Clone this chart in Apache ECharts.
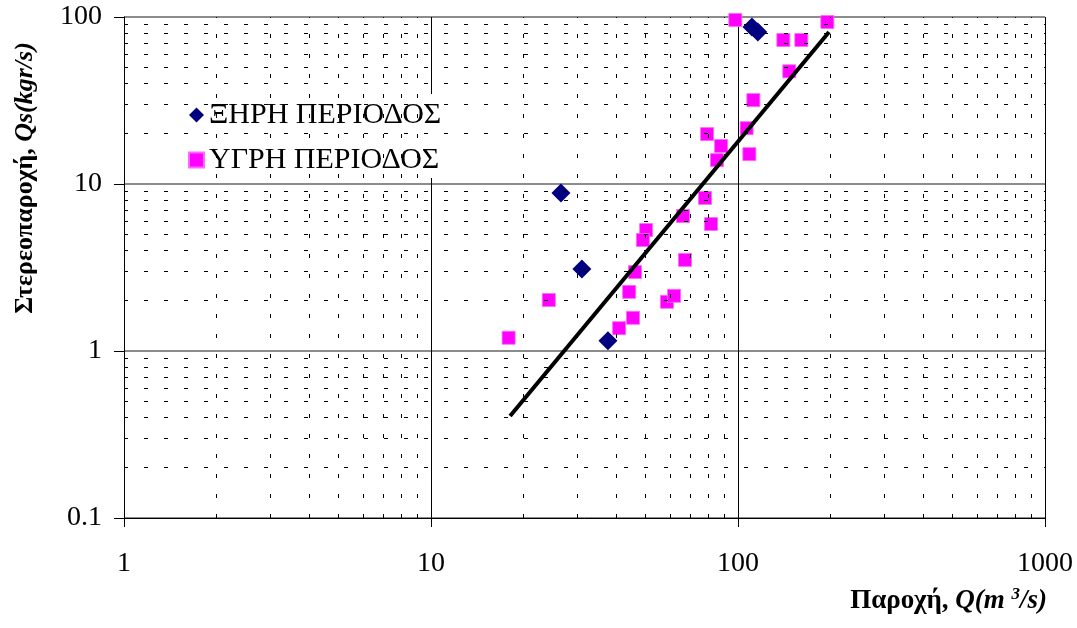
<!DOCTYPE html>
<html>
<head>
<meta charset="utf-8">
<script src="https://cdn.jsdelivr.net/npm/echarts@6/dist/echarts.min.js"></script>
<style>html,body{margin:0;padding:0;background:#fff}#c{width:1077px;height:628px}</style>
</head>
<body>
<div id="c"></div>
<script>
// Dry period (ΞΗΡΗ ΠΕΡΙΟΔΟΣ): [Q m3/s, Qs kgr/s]
const dryQ  = [26.5, 31.0, 37.7, 111, 116];
const dryQs = [8.83, 3.10, 1.15, 87.1, 81.3];
// Wet period (ΥΓΡΗ ΠΕΡΙΟΔΟΣ)
const wetQ  = [17.9, 24.2, 41.0, 45.5, 44.2, 46.2, 58.7, 61.9, 67.2, 50.2, 49.0, 78.1, 66.2, 81.7, 79.3, 88.1, 85.4, 106.7, 108.9, 112.2, 98.0, 140.5, 160.8, 146.9, 195.4];
const wetQs = [1.20, 2.02, 1.37, 1.58, 2.26, 2.97, 1.97, 2.14, 3.51, 5.30, 4.62, 8.25, 6.43, 5.76, 19.9, 16.9, 13.9, 21.6, 15.1, 31.8, 96.0, 72.8, 72.8, 47.3, 93.3];
// Fitted line endpoints
const fitQ  = [18.1, 197.9];
const fitQs = [0.408, 81.3];
// Minor grid values
const xMinor = [2,3,4,5,6,7,8,9,20,30,40,50,60,70,80,90,200,300,400,500,600,700,800,900];
const yMinor = [0.2,0.3,0.4,0.5,0.6,0.7,0.8,0.9,2,3,4,5,6,7,8,9,20,30,40,50,60,70,80,90];
const seriesNames = ['ΞΗΡΗ ΠΕΡΙΟΔΟΣ', 'ΥΓΡΗ ΠΕΡΙΟΔΟΣ'];

const zip = (a, b) => a.map((v, i) => [v, b[i]]);
const serif = 'Liberation Serif';
const chart = echarts.init(document.getElementById('c'), null, {renderer: 'canvas'});

const minorLines = xMinor.map(v => ({xAxis: v})).concat(yMinor.map(v => ({yAxis: v})));
const fmt = v => String(Math.round(v * 1000) / 1000);

chart.setOption({
  animation: false,
  backgroundColor: '#fff',
  grid: {left: 124, right: 32, top: 17, bottom: 110},
  xAxis: {
    type: 'log', logBase: 10, min: 1, max: 1000,
    axisLine: {lineStyle: {color: '#000', width: 1}},
    axisTick: {show: true, length: 9, lineStyle: {color: '#000'}},
    axisLabel: {fontFamily: serif, fontSize: 28, color: '#000', margin: 32, formatter: fmt},
    splitLine: {show: true, lineStyle: {color: '#000', width: 1}}
  },
  yAxis: {
    type: 'log', logBase: 10, min: 0.1, max: 100,
    axisLine: {lineStyle: {color: '#000', width: 1}},
    axisTick: {show: true, length: 10, lineStyle: {color: '#000'}},
    axisLabel: {fontFamily: serif, fontSize: 28, color: '#000', margin: 22, formatter: fmt},
    splitLine: {show: true, lineStyle: {color: '#666', width: 1.5}}
  },
  legend: {
    orient: 'vertical', left: 180, top: 94,
    backgroundColor: '#fff', padding: [6, 10, 3, 8],
    itemGap: 15, itemWidth: 15, itemHeight: 15,
    textStyle: {fontFamily: serif, fontSize: 30, color: '#000'},
    data: [{name: seriesNames[0], icon: 'diamond'}, {name: seriesNames[1], icon: 'rect'}]
  },
  series: [
    {
      type: 'line', data: [], silent: true, z: 1,
      markLine: {
        silent: true, symbol: 'none', animation: false,
        label: {show: false},
        lineStyle: {color: '#000', width: 1, type: [4, 16]},
        data: minorLines
      }
    },
    {
      name: seriesNames[1], type: 'scatter', symbol: 'rect', symbolSize: 13, z: 3,
      itemStyle: {color: '#FF00FF', borderColor: '#ff66ff', borderWidth: 0.8, opacity: 1},
      data: zip(wetQ, wetQs)
    },
    {
      name: seriesNames[0], type: 'scatter', symbol: 'diamond', symbolSize: 19, z: 4,
      itemStyle: {color: '#000080', opacity: 1},
      data: zip(dryQ, dryQs)
    },
    {
      type: 'line', data: zip(fitQ, fitQs), symbol: 'none', z: 5,
      lineStyle: {color: '#000', width: 4}
    }
  ],
  graphic: [
    {
      type: 'text', x: 1047, y: 601,
      style: {
        text: '{b|Παροχή, }{bi|Q(m }{sup|3}{bi|/s)}',
        align: 'right', verticalAlign: 'middle',
        rich: {
          b: {fontFamily: serif, fontWeight: 'bold', fontSize: 27, fill: '#000', lineHeight: 30},
          bi: {fontFamily: serif, fontWeight: 'bold', fontStyle: 'italic', fontSize: 27, fill: '#000', lineHeight: 30},
          sup: {fontFamily: serif, fontWeight: 'bold', fontStyle: 'italic', fontSize: 17, fill: '#000', verticalAlign: 'top', lineHeight: 18}
        }
      }
    },
    {
      type: 'text', x: 25, y: 178, rotation: Math.PI / 2,
      style: {
        text: '{b|Στερεοπαροχή, }{bi|Qs(kgr/s)}',
        align: 'center', verticalAlign: 'middle',
        rich: {
          b: {fontFamily: serif, fontWeight: 'bold', fontSize: 26, fill: '#000'},
          bi: {fontFamily: serif, fontWeight: 'bold', fontStyle: 'italic', fontSize: 26, fill: '#000'}
        }
      }
    }
  ]
});
</script>
</body>
</html>
